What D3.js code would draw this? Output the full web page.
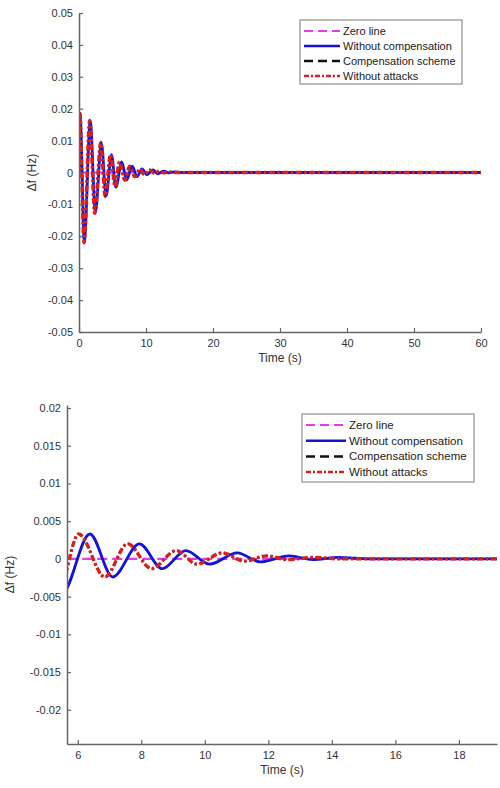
<!DOCTYPE html>
<html>
<head>
<meta charset="utf-8">
<script src="https://cdn.jsdelivr.net/npm/d3@7"></script>
<style>
  body { margin: 0; background: #fff; }
  svg { display: block; font-family: "Liberation Sans", Arial, sans-serif; }
</style>
</head>
<body>
<svg id="chart" width="500" height="788"></svg>
<script>
// frequency deviation (peaks / troughs)
const timeNoComp = [0, 0.15, 0.8, 1.68, 2.45, 3.35, 4.05, 4.85, 5.5, 6.38, 7.10, 7.94, 8.66, 9.40, 10.15, 11.02, 11.75, 12.65, 13.4, 14.2, 15.2, 60]
const dfNoComp = [0, 0.0185, -0.0215, 0.016, -0.0125, 0.0092, -0.0073, 0.0056, -0.0046, 0.0033, -0.0024, 0.0020, -0.0013, 0.0011, -0.0007, 0.0008, -0.0004, 0.0004, -0.0001, 0.0002, 0, 0]

const timeNoAttack = [0, 0.12, 0.75, 1.6, 2.35, 3.25, 3.9, 4.7, 5.38, 6.03, 6.85, 7.57, 8.32, 9.1, 9.75, 10.55, 11.25, 11.95, 12.6, 13.4, 14.3, 60]
const dfNoAttack = [0, 0.019, -0.022, 0.0163, -0.0128, 0.0094, -0.0075, 0.0056, -0.0044, 0.0033, -0.0024, 0.0020, -0.0013, 0.0011, -0.0007, 0.0008, -0.0003, 0.0004, -0.0001, 0.0002, 0, 0]

const timeComp = [0, 0.12, 0.75, 1.6, 2.35, 3.25, 3.9, 4.7, 5.38, 6.03, 6.85, 7.57, 8.32, 9.1, 9.75, 10.55, 11.25, 11.95, 12.6, 13.4, 14.3, 60]
const dfComp = [0, 0.019, -0.022, 0.0163, -0.0128, 0.0094, -0.0075, 0.0056, -0.0044, 0.0033, -0.0024, 0.0020, -0.0013, 0.0011, -0.0007, 0.0008, -0.0003, 0.0004, -0.0001, 0.0002, 0, 0]

const timeZero = [0, 60]
const dfZero = [0, 0]

const legendLabels = ["Zero line", "Without compensation", "Compensation scheme", "Without attacks"]

const topXTicks = [0, 10, 20, 30, 40, 50, 60]
const topYTicks = [-0.05, -0.04, -0.03, -0.02, -0.01, 0, 0.01, 0.02, 0.03, 0.04, 0.05]
const botXTicks = [6, 8, 10, 12, 14, 16, 18]
const botYTicks = [-0.02, -0.015, -0.01, -0.005, 0, 0.005, 0.01, 0.015, 0.02]

const zip = (t, v) => t.map((d, i) => ({ t: d, v: v[i] }))

const series = [
    { name: legendLabels[0], data: zip(timeZero, dfZero), color: "#e23fe2", width: 2.2, dash: "10,5" },
    { name: legendLabels[2], data: zip(timeComp, dfComp), color: "#111", width: 2, dash: "6,2.5,2.5,2.5" },
    { name: legendLabels[1], data: zip(timeNoComp, dfNoComp), color: "#1414d8", width: 2.8, dash: null },
    { name: legendLabels[3], data: zip(timeNoAttack, dfNoAttack), color: "#d8201e", width: 3.4, dash: "6,2.5,2.5,2.5" }
]
// legend order differs from drawing order
const legendOrder = [0, 2, 1, 3]

const svg = d3.select("#chart")
const fmt = d => String(+d.toFixed(4))

function panel(id, cfg) {
    const x = d3.scaleLinear().domain(cfg.xDomain).range(cfg.xRange)
    const y = d3.scaleLinear().domain(cfg.yDomain).range(cfg.yRange)
    const g = svg.append("g")

    g.append("clipPath").attr("id", id)
        .append("rect")
        .attr("x", cfg.xRange[0]).attr("y", cfg.yRange[1])
        .attr("width", cfg.xRange[1] - cfg.xRange[0])
        .attr("height", cfg.yRange[0] - cfg.yRange[1])

    const line = d3.line().x(d => x(d.t)).y(d => y(d.v)).curve(d3.curveMonotoneX)
    const lines = g.append("g").attr("clip-path", `url(#${id})`)
    series.forEach(s => {
        lines.append("path")
            .attr("d", line(s.data))
            .attr("fill", "none")
            .attr("stroke", s.color)
            .attr("stroke-width", s.width)
            .attr("stroke-dasharray", s.dash)
    })

    const xAxis = d3.axisBottom(x).tickValues(cfg.xTicks).tickSizeInner(-4).tickSizeOuter(0).tickPadding(7).tickFormat(fmt)
    const yAxis = d3.axisLeft(y).tickValues(cfg.yTicks).tickSizeInner(-4).tickSizeOuter(0).tickPadding(6).tickFormat(fmt)

    const gx = g.append("g").attr("transform", `translate(0,${cfg.yRange[0]})`).call(xAxis)
    const gy = g.append("g").attr("transform", `translate(${cfg.xRange[0]},0)`).call(yAxis)
    ;[gx, gy].forEach(a => {
        a.select(".domain").attr("stroke", "#666").attr("stroke-width", 1.5)
        a.selectAll(".tick line").attr("stroke", "#666").attr("stroke-width", 1.2)
        a.selectAll("text").attr("fill", "#333").attr("font-size", 11)
            .attr("font-family", "Liberation Sans, Arial, sans-serif")
    })

    g.append("text")
        .attr("x", (cfg.xRange[0] + cfg.xRange[1]) / 2)
        .attr("y", cfg.yRange[0] + 30)
        .attr("text-anchor", "middle")
        .attr("font-size", 12).attr("fill", "#333")
        .text("Time (s)")

    g.append("text")
        .attr("transform", `translate(${cfg.yLabelX},${(cfg.yRange[0] + cfg.yRange[1]) / 2}) rotate(-90)`)
        .attr("text-anchor", "middle")
        .attr("font-size", 12).attr("fill", "#333")
        .text("\u0394f (Hz)")

    // legend
    const L = cfg.legend
    const lg = g.append("g").attr("transform", `translate(${L.x},${L.y})`)
    lg.append("rect")
        .attr("width", L.w).attr("height", L.h)
        .attr("fill", "#fff").attr("stroke", "#777").attr("stroke-width", 1)
    legendOrder.forEach((si, i) => {
        const s = series[si]
        const yy = L.first + i * L.step
        lg.append("line")
            .attr("x1", 4).attr("x2", 4 + L.sample)
            .attr("y1", yy).attr("y2", yy)
            .attr("stroke", s.color)
            .attr("stroke-width", si === 0 ? 2.2 : 2.5)
            .attr("stroke-dasharray", si === 0 || si === 1 ? "9,5" : s.dash === null ? null : "5,2,2,2")
        lg.append("text")
            .attr("x", 7 + L.sample).attr("y", yy)
            .attr("dy", "0.35em")
            .attr("font-size", L.font).attr("fill", "#222")
            .text(s.name)
    })
}

panel("clipTop", {
    xDomain: [0, 60], xRange: [79, 481],
    yDomain: [-0.05, 0.05], yRange: [332, 13],
    xTicks: topXTicks, yTicks: topYTicks, yLabelX: 36,
    legend: { x: 300, y: 20, w: 162, h: 64, first: 11, step: 15, sample: 36, font: 11 }
})

panel("clipBot", {
    xDomain: [5.66, 19.2], xRange: [67, 497],
    yDomain: [-0.02454, 0.0204], yRange: [744, 405],
    xTicks: botXTicks, yTicks: botYTicks, yLabelX: 14,
    legend: { x: 302, y: 414, w: 172, h: 68, first: 11, step: 15.7, sample: 40, font: 11.5 }
})
</script>
</body>
</html>
